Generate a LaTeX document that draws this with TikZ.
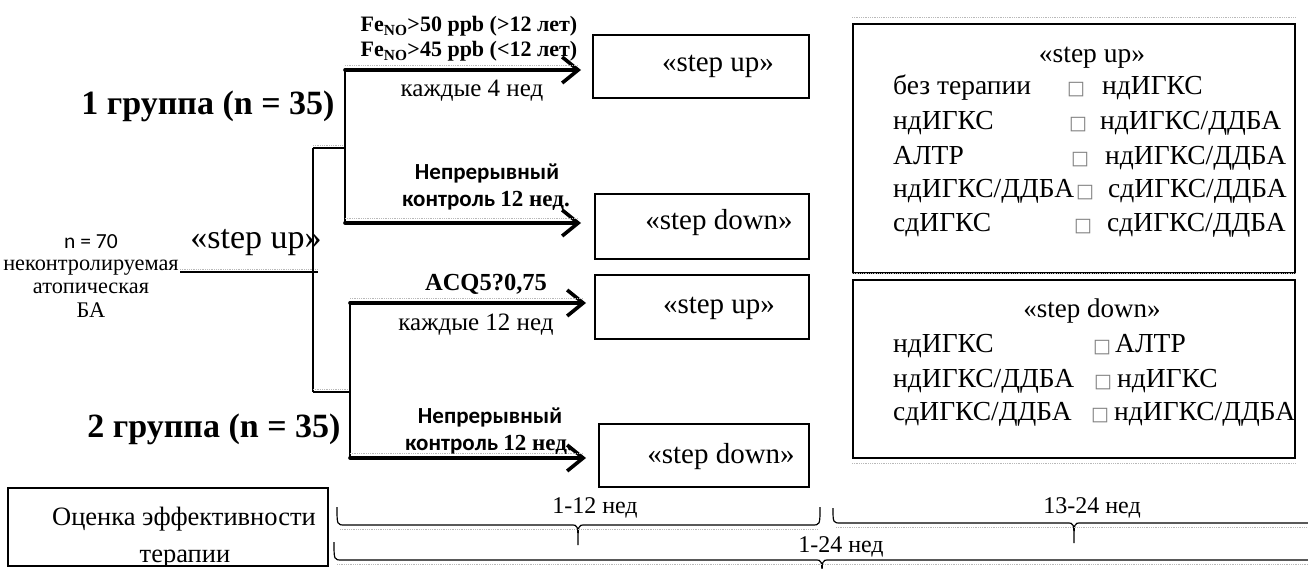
\documentclass[tikz,border=0pt]{standalone}
\usepackage{fontspec}
\setmainfont{Liberation Serif}
\newfontfamily\calib{Carlito}
\newfontfamily\djv{DejaVu Sans}
\usetikzlibrary{arrows.meta}
\newcommand{\fsz}[1]{\fontsize{#1}{#1}\selectfont}
\newcommand{\sq}{{\djv\fontsize{19}{19}\selectfont\textcolor{gray}{□}}}
\tikzset{
  thinln/.style={line width=1.3pt},
  bigarrow/.style={line width=3.6pt, line cap=round, -{Straight Barb[length=16pt,width=26pt,line width=3.6pt]}},
  midbox/.style={draw, line width=2pt},
  rbox/.style={draw, line width=2pt},
  brace/.style={line width=1.2pt},
  shadowln/.style={gray!55, densely dotted, line width=0.8pt},
  lbl/.style={inner sep=0pt, anchor=base},
  row/.style={inner sep=0pt, anchor=base west, font=\fsz{27.5}},
  sqn/.style={inner sep=0pt, anchor=base},
}
\begin{document}
\begin{tikzpicture}[x=1pt,y=-1pt]
\useasboundingbox (0,0) rectangle (1308,569);

% ---------- left population text ----------
\node[lbl] (n70) at (91,248) {\calib\fsz{21.5}n = 70};
\node[lbl] (pop) at (91,270) {\fsz{22.3}неконтролируемая};
\node[lbl] (pop2) at (91,293) {\fsz{22.3}атопическая};
\node[lbl] (pop3) at (91,317) {\fsz{22.3}БА};
\node[lbl] (su) at (256,248) {\fsz{34}«step up»};

% junction structure
\coordinate (rootL) at (180,272);
\coordinate (rootR) at (318,272);
\coordinate (jtop) at (313,148);
\coordinate (jbot) at (313,392);
\coordinate (g1m) at (345,148);
\coordinate (g2m) at (350,392);
\coordinate (g1a) at (345,70);
\coordinate (g1b) at (345,223);
\coordinate (g2a) at (350,303);
\coordinate (g2b) at (350,458);

\draw[thinln] (rootL) -- (rootR);
\draw[shadowln] ([yshift=3pt]rootL) -- ([yshift=3pt]rootR);
\draw[thinln] (jtop) -- (jbot);
\draw[thinln] (jtop) -- (g1m);
\draw[shadowln] ([yshift=3pt]jtop) -- ([yshift=3pt]g1m);
\draw[thinln] (jbot) -- (g2m);
\draw[shadowln] ([yshift=3pt]jbot) -- ([yshift=3pt]g2m);
\draw[thinln] (g1a) -- (g1b);
\draw[thinln] (g2a) -- (g2b);

% group labels
\node[lbl] (grp1) at (208,115) {\bfseries\fsz{34}1 группа (n = 35)};
\node[lbl] (grp2) at (214,437) {\bfseries\fsz{34}2 группа (n = 35)};

% ---------- middle boxes ----------
\node[midbox, minimum width=216pt, minimum height=63pt, inner sep=0pt] (b1) at (701,66.5) {};
\node[midbox, minimum width=214pt, minimum height=65pt, inner sep=0pt] (b2) at (702,226.5) {};
\node[midbox, minimum width=214pt, minimum height=64pt, inner sep=0pt] (b3) at (702,307) {};
\node[midbox, minimum width=210pt, minimum height=63pt, inner sep=0pt] (b4) at (704,455.5) {};
\node[lbl] (t1) at (718,72) {\fsz{29}«step up»};
\node[lbl] (t2) at (719,230) {\fsz{29}«step down»};
\node[lbl] (t3) at (719,313) {\fsz{29}«step up»};
\node[lbl] (t4) at (721,463) {\fsz{29}«step down»};

% arrows
\draw[bigarrow, shorten >=11pt] (g1a) -- (b1.west |- g1a);
\draw[bigarrow, shorten >=13pt] (g1b) -- (b2.west |- g1b);
\draw[bigarrow, shorten >=8pt] (g2a) -- (b3.west |- g2a);
\draw[bigarrow, shorten >=12pt] (g2b) -- (b4.west |- g2b);
\draw[shadowln] ([yshift=5pt]g1a) -- ([yshift=5pt,xshift=-14pt]b1.west |- g1a);
\draw[shadowln] ([yshift=5pt]g1b) -- ([yshift=5pt,xshift=-16pt]b2.west |- g1b);
\draw[shadowln] ([yshift=5pt]g2a) -- ([yshift=5pt,xshift=-11pt]b3.west |- g2a);
\draw[shadowln] ([yshift=5pt]g2b) -- ([yshift=5pt,xshift=-15pt]b4.west |- g2b);

% arrow labels
\node[lbl] (fe1) at (469,32) {\bfseries\fsz{22}Fe\textsubscript{NO}>50 ppb (>12 лет)};
\node[lbl] (fe2) at (469,57) {\bfseries\fsz{22}Fe\textsubscript{NO}>45 ppb (<12 лет)};
\node[lbl] (k4) at (472,97) {\fsz{25}каждые 4 нед};
\node[lbl] (np1) at (487,180) {\calib\bfseries\fsz{23}Непрерывный};
\node[lbl] (kc1) at (486,207) {\bfseries\fsz{23}{\calib контроль }12 нед.};
\node[lbl] (acq) at (486,290) {\bfseries\fsz{24.5}ACQ5?0,75};
\node[lbl] (k12) at (476,330) {\fsz{25}каждые 12 нед};
\node[lbl] (np2) at (490,423) {\calib\bfseries\fsz{23}Непрерывный};
\node[lbl] (kc2) at (489,450) {\bfseries\fsz{23}{\calib контроль }12 нед.};

% ---------- right boxes ----------
\node[rbox, minimum width=442pt, minimum height=249pt, inner sep=0pt] (ru) at (1074,148.5) {};
\draw[shadowln] ([yshift=6pt]ru.north west) -- ([yshift=6pt]ru.north east);
\node[lbl] (rut) at (1092,63) {\fsz{27.5}«step up»};
\node[row] (ru1a) at (893,95) {без терапии};
\node[sqn] (ru1b) at (1076,95) {\sq};
\node[row] (ru1c) at (1102,95) {ндИГКС};
\node[row] (ru2a) at (893,130) {ндИГКС};
\node[sqn] (ru2b) at (1078,130) {\sq};
\node[row] (ru2c) at (1100,130) {ндИГКС/ДДБА};
\node[row] (ru3a) at (893,165) {АЛТР};
\node[sqn] (ru3b) at (1080,165) {\sq};
\node[row] (ru3c) at (1105,165) {ндИГКС/ДДБА};
\node[row] (ru4a) at (893,198) {ндИГКС/ДДБА};
\node[sqn] (ru4b) at (1085,198) {\sq};
\node[row] (ru4c) at (1108,198) {сдИГКС/ДДБА};
\node[row] (ru5a) at (893,232) {сдИГКС};
\node[sqn] (ru5b) at (1083,232) {\sq};
\node[row] (ru5c) at (1107,232) {сдИГКС/ДДБА};

\node[rbox, minimum width=442pt, minimum height=178pt, inner sep=0pt] (rd) at (1074,369) {};
\draw[shadowln] ([yshift=6pt]rd.north west) -- ([yshift=6pt]rd.north east);
\draw[shadowln] ([yshift=-4pt]rd.south west) -- ([yshift=-4pt]rd.south east);
\node[lbl] (rdt) at (1092,317) {\fsz{27}«step down»};
\node[row] (rd1a) at (893,352) {ндИГКС};
\node[sqn] (rd1b) at (1102,352) {\sq};
\node[row] (rd1c) at (1115,352) {АЛТР};
\node[row] (rd2a) at (893,387) {ндИГКС/ДДБА};
\node[sqn] (rd2b) at (1103,387) {\sq};
\node[row] (rd2c) at (1117,387) {ндИГКС};
\node[row] (rd3a) at (893,420) {сдИГКС/ДДБА};
\node[sqn] (rd3b) at (1100,420) {\sq};
\node[row] (rd3c) at (1114,420) {ндИГКС/ДДБА};

% ---------- bottom-left box ----------
\begin{scope}
\clip (8,488) rectangle (328,565);
\node[lbl] (oc1) at (184,525) {\fsz{26.5}Оценка эффективности};
\node[lbl] (oc2) at (185,562) {\fsz{26.5}терапии};
\end{scope}
\draw[line width=2pt] (8,488) rectangle (328,566);

% ---------- braces ----------
% 1-12
\draw[brace] (337,507) .. controls (337,525) .. (345,525) -- (571,525)
  .. controls (578,525) .. (578,545) .. controls (578,525) .. (585,525) -- (812,525)
  .. controls (820,525) .. (820,507);
\draw[shadowln] (340,529) -- (818,529);
\node[lbl] (w112) at (595,513) {\fsz{24}1-12 нед};
% 13-24
\draw[brace] (833,508) .. controls (833,523) .. (841,523) -- (1067,523)
  .. controls (1074,523) .. (1074,543) .. controls (1074,523) .. (1081,523) -- (1320,523);
\draw[shadowln] (836,527) -- (1308,527);
\node[lbl] (w1324) at (1092,513) {\fsz{24}13-24 нед};
% 1-24
\draw[brace] (334,542) .. controls (334,560) .. (342,560) -- (815,560)
  .. controls (822,560) .. (822,580) .. controls (822,560) .. (829,560) -- (1320,560);
\draw[shadowln] (337,564) -- (1308,564);
\node[lbl] (w124) at (841,552) {\fsz{24}1-24 нед};
\end{tikzpicture}
\end{document}
